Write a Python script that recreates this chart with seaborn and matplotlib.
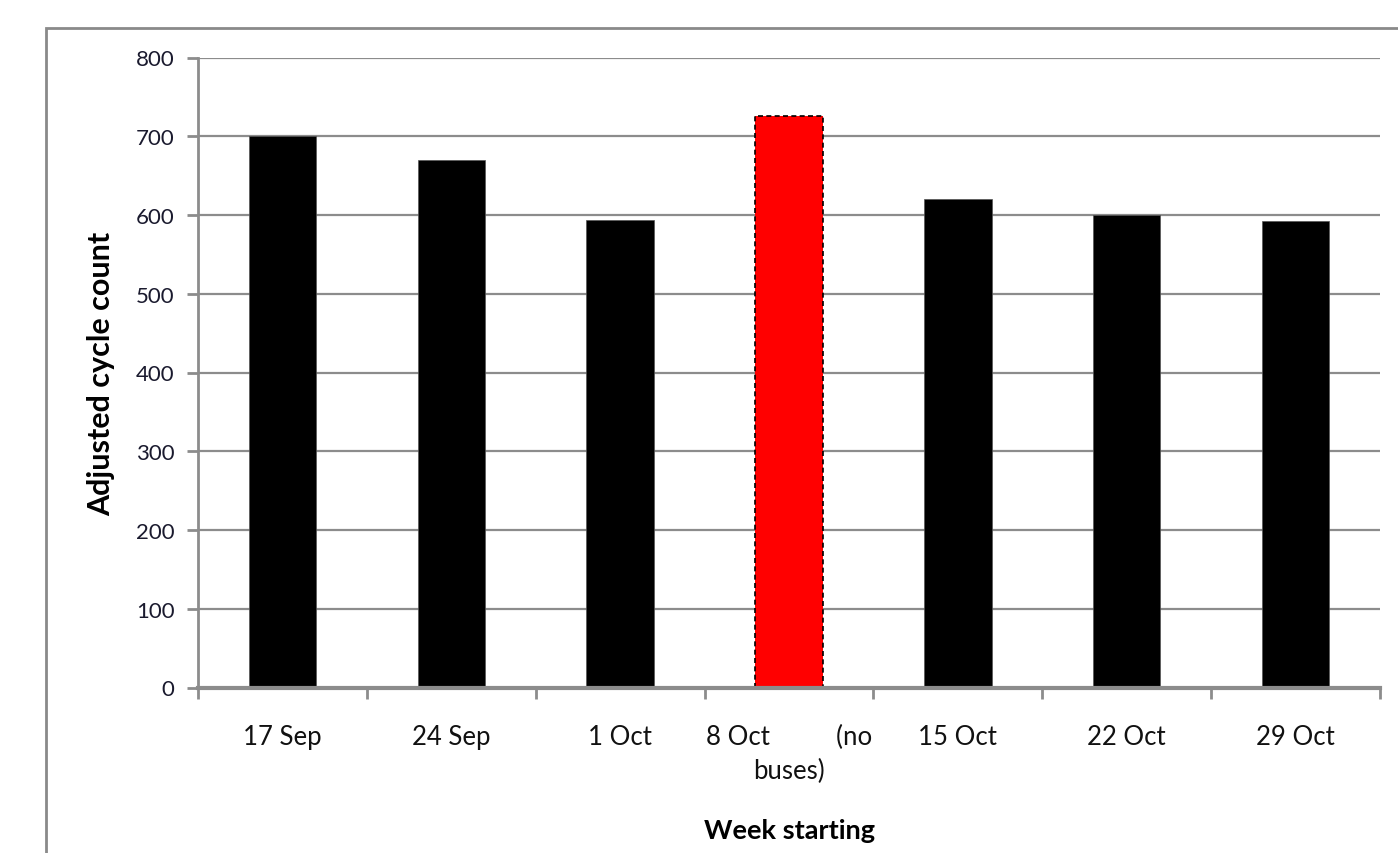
import matplotlib
matplotlib.use("Agg")
import matplotlib.pyplot as plt
from matplotlib.patches import Rectangle
from matplotlib.ticker import FixedLocator, NullFormatter
import seaborn as sns

# Weekly adjusted cycle counts
weeks = ["17 Sep", "24 Sep", "1 Oct", "8 Oct          (no\nbuses)", "15 Oct", "22 Oct", "29 Oct"]
counts = [700, 670, 594, 726, 620, 600, 592]
no_buses = [False, False, False, True, False, False, False]

y_ticks = [0, 100, 200, 300, 400, 500, 600, 700, 800]

sns.set_theme(style="white")
plt.rcParams["font.family"] = ["Lato", "DejaVu Sans"]

W, H = 1398, 854
fig = plt.figure(figsize=(W / 100, H / 100), dpi=100)
ax = fig.add_axes([198 / W, 1 - 688.5 / H, (1380 - 198) / W, (688.5 - 58.5) / H])

palette = {w: ("#ff0000" if nb else "#000000") for w, nb in zip(weeks, no_buses)}
sns.barplot(x=weeks, y=counts, hue=weeks, palette=palette, width=0.4,
            legend=False, ax=ax, zorder=3, saturation=1)

for patch, nb in zip(ax.patches, no_buses):
    if nb:
        patch.set_edgecolor("black")
        patch.set_linestyle((0, (3, 2)))
        patch.set_linewidth(1.2)
    else:
        patch.set_edgecolor("#555555")
        patch.set_linewidth(0.5)

grid_col = "#8c8c8c"
ax.set_ylim(0, 800)
ax.set_xlim(-0.5, len(weeks) - 0.5)
ax.set_yticks(y_ticks)
ax.yaxis.grid(True, color=grid_col, linewidth=1.6, zorder=0)
ax.xaxis.grid(False)

for s in ["top", "right"]:
    ax.spines[s].set_visible(False)
ax.spines["left"].set_color(grid_col)
ax.spines["left"].set_linewidth(2)
ax.spines["bottom"].set_color(grid_col)
ax.spines["bottom"].set_linewidth(3)
ax.spines["bottom"].set_zorder(4)

# category separators below the axis
ax.xaxis.set_minor_locator(FixedLocator([i - 0.5 for i in range(len(weeks) + 1)]))
ax.xaxis.set_minor_formatter(NullFormatter())
ax.tick_params(axis="x", which="minor", length=8, width=2, color=grid_col, direction="out", bottom=True)
ax.tick_params(axis="x", which="major", length=0, pad=26, labelsize=18.5, labelcolor="#111111")
ax.tick_params(axis="y", which="major", length=8, width=2, color=grid_col, direction="out",
               left=True, pad=9, labelsize=16, labelcolor="#1a1a2e")
for lbl in ax.get_xticklabels():
    lbl.set_multialignment("center")
    lbl.set_linespacing(1.45)

ax.set_ylabel("Adjusted cycle count", fontsize=22, fontweight="bold", labelpad=15, color="black")
ax.set_xlabel("Week starting", fontsize=19.5, fontweight="bold", labelpad=25, color="black")

# outer chart frame
fig.patches.append(Rectangle((46 / W, -0.1), 2, 1 - 29 / H + 0.1, transform=fig.transFigure,
                             fill=False, edgecolor="#8a8a8a", linewidth=2))

fig.savefig("out.png", dpi=100)
